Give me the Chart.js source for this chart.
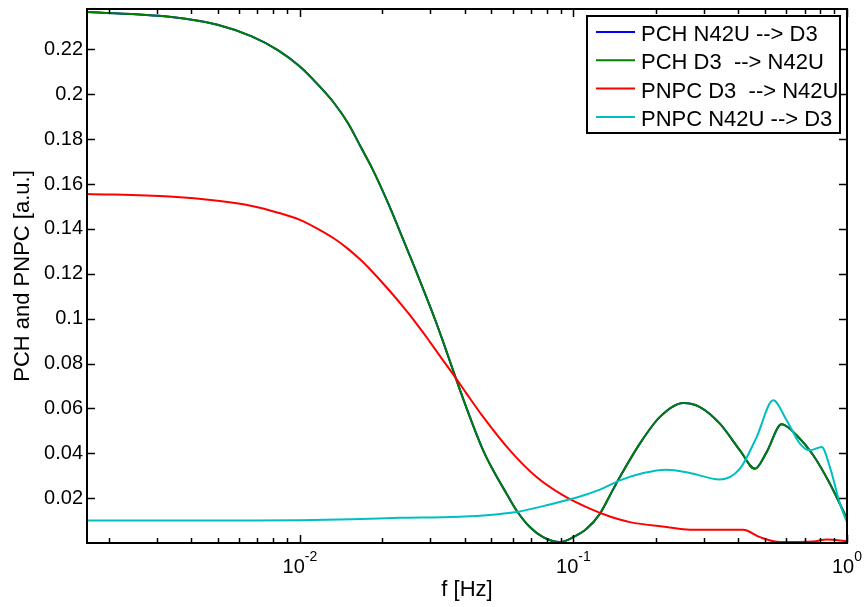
<!DOCTYPE html>
<html>
<head>
<meta charset="utf-8">
<script src="https://cdn.jsdelivr.net/npm/chart.js@4.4.1/dist/chart.umd.min.js"></script>
<style>
  html, body { margin: 0; padding: 0; background: #ffffff; }
  canvas { display: block; }
</style>
</head>
<body>
<canvas id="chart" width="867" height="607"></canvas>
<script>
// ---------------- DATA ----------------
const seriesLabels = ['PCH N42U --> D3', 'PCH D3  --> N42U', 'PNPC D3  --> N42U', 'PNPC N42U --> D3'];

// PCH curves (blue is hidden beneath green: same values)
const pchFreq = [0.0016667, 0.0033333, 0.005, 0.0066667, 0.0083333, 0.01, 0.0116667, 0.0133333, 0.015, 0.0166667,
  0.0183333, 0.02, 0.0216667, 0.0233333, 0.025, 0.0266667, 0.0283333, 0.03, 0.0316667, 0.0333333,
  0.03739, 0.04182, 0.04677, 0.05088, 0.05697, 0.06196, 0.06929, 0.0775, 0.0892, 0.09979,
  0.1117, 0.1249, 0.1359, 0.1478, 0.1749, 0.2071, 0.2519, 0.29, 0.343, 0.4061,
  0.4607, 0.5084, 0.5768, 0.6544, 0.7526, 0.8661, 1.0];
const pchN42UtoD3 = [0.2367, 0.2345, 0.2310, 0.2258, 0.2196, 0.2124, 0.2042, 0.1961, 0.1871, 0.1767,
  0.1672, 0.1574, 0.1477, 0.1381, 0.1292, 0.1208, 0.1127, 0.1050, 0.0975, 0.0900,
  0.0725, 0.0562, 0.0413, 0.0324, 0.0220, 0.0145, 0.0071, 0.0026, 0.0004, 0.0026,
  0.0063, 0.0130, 0.0212, 0.0294, 0.0443, 0.0562, 0.0624, 0.0606, 0.0532, 0.0413,
  0.0331, 0.0405, 0.0529, 0.0480, 0.0391, 0.0264, 0.0108];
const pchD3toN42U = [0.2367, 0.2345, 0.2310, 0.2258, 0.2196, 0.2124, 0.2042, 0.1961, 0.1871, 0.1767,
  0.1672, 0.1574, 0.1477, 0.1381, 0.1292, 0.1208, 0.1127, 0.1050, 0.0975, 0.0900,
  0.0725, 0.0562, 0.0413, 0.0324, 0.0220, 0.0145, 0.0071, 0.0026, 0.0004, 0.0026,
  0.0063, 0.0130, 0.0212, 0.0294, 0.0443, 0.0562, 0.0624, 0.0606, 0.0532, 0.0413,
  0.0331, 0.0405, 0.0529, 0.0480, 0.0391, 0.0264, 0.0108];

// PNPC D3 --> N42U (red)
const pnpcD3Freq = [0.0016667, 0.0033333, 0.005, 0.0066667, 0.0083333, 0.01, 0.0116667, 0.0133333, 0.015, 0.0166667,
  0.0183333, 0.02, 0.0216667, 0.0233333, 0.025, 0.0266667, 0.0283333, 0.03, 0.0316667, 0.0333333,
  0.0366667, 0.04068, 0.04677, 0.05856, 0.07332, 0.09173, 0.1148, 0.1359, 0.1608, 0.2192,
  0.2666, 0.4174, 0.4805, 0.5686, 0.7526, 0.8425, 1.0];
const pnpcD3toN42U = [0.1556, 0.1544, 0.1525, 0.1502, 0.1472, 0.1440, 0.1399, 0.1357, 0.1311, 0.1262,
  0.1211, 0.1161, 0.1113, 0.1067, 0.1022, 0.0978, 0.0935, 0.0893, 0.0853, 0.0815,
  0.0745, 0.0666, 0.0562, 0.0413, 0.0294, 0.0212, 0.0153, 0.0118, 0.0093, 0.0071,
  0.0059, 0.0059, 0.0026, 0.0004, 0.0007, 0.0016, 0.0008];

// PNPC N42U --> D3 (cyan)
const pnpcN42UFreq = [0.0016667, 0.0033333, 0.0066667, 0.01, 0.0166667, 0.02319, 0.03534, 0.04677, 0.06196, 0.08202,
  0.1085, 0.1249, 0.1478, 0.1799, 0.2192, 0.2666, 0.343, 0.4061, 0.4673, 0.5374, 0.6016, 0.6727, 0.7318,
  0.8078, 0.8661, 0.9423, 1.0];
const pnpcN42UtoD3 = [0.0100, 0.0100, 0.0100, 0.0101, 0.0107, 0.0112, 0.0116, 0.0123, 0.0138, 0.0172,
  0.0212, 0.0238, 0.0279, 0.0312, 0.0327, 0.0312, 0.0283, 0.0331, 0.0472, 0.0636, 0.0547, 0.0443, 0.0413,
  0.0428, 0.0338, 0.0175, 0.0093];

// Axis ticks
const xMajorTicks = [0.01, 0.1, 1];
const xTickExponents = ['-2', '-1', '0'];
const yTickValues = [0.02, 0.04, 0.06, 0.08, 0.1, 0.12, 0.14, 0.16, 0.18, 0.2, 0.22];
const yTickLabels = ['0.02', '0.04', '0.06', '0.08', '0.1', '0.12', '0.14', '0.16', '0.18', '0.2', '0.22'];

const seriesColors = ['#0000ff', '#007f00', '#ff0000', '#00bfbf'];

// ---------------- CHART ----------------
const FONT = '"Liberation Sans", Arial, Helvetica, sans-serif';
Chart.defaults.font.family = FONT;
Chart.defaults.color = '#000000';

function toPoints(xs, ys) { return xs.map((x, i) => ({ x: x, y: ys[i] })); }

const boxPlugin = {
  id: 'matlabBox',
  afterDatasetsDraw(chart) {
    const ctx = chart.ctx;
    const a = chart.chartArea;
    const xs = chart.scales.x, ys = chart.scales.y;
    ctx.save();
    ctx.strokeStyle = '#000000';
    ctx.lineWidth = 2;
    ctx.strokeRect(a.left, a.top, a.right - a.left, a.bottom - a.top);
    ctx.lineWidth = 1.5;
    ctx.beginPath();
    yTickValues.forEach(v => {
      const y = Math.round(ys.getPixelForValue(v)) + 0.5;
      ctx.moveTo(a.left, y); ctx.lineTo(a.left + 8, y);
      ctx.moveTo(a.right, y); ctx.lineTo(a.right - 8, y);
    });
    const minV = xs.min, maxV = xs.max;
    for (let e = -4; e <= 0; e++) {
      for (let k = 1; k <= 9; k++) {
        const v = k * Math.pow(10, e);
        if (v < minV * 1.0001 || v > maxV * 1.0001) continue;
        const x = Math.round(xs.getPixelForValue(v)) + 0.5;
        const len = k === 1 ? 8 : 5;
        ctx.moveTo(x, a.bottom); ctx.lineTo(x, a.bottom - len);
        ctx.moveTo(x, a.top); ctx.lineTo(x, a.top + len);
      }
    }
    ctx.stroke();
    // x tick labels: 10 with superscript exponent
    ctx.fillStyle = '#000000';
    ctx.textBaseline = 'alphabetic';
    ctx.textAlign = 'left';
    xMajorTicks.forEach((v, i) => {
      const x = xs.getPixelForValue(v);
      ctx.font = '20px ' + FONT;
      const w1 = ctx.measureText('10').width;
      ctx.font = '14px ' + FONT;
      const w2 = ctx.measureText(xTickExponents[i]).width;
      const start = x - (w1 + w2) / 2;
      ctx.font = '20px ' + FONT;
      ctx.fillText('10', start, a.bottom + 30);
      ctx.font = '14px ' + FONT;
      ctx.fillText(xTickExponents[i], start + w1, a.bottom + 18);
    });
    ctx.restore();
  },
  afterDraw(chart) {
    const ctx = chart.ctx;
    const bx = 587, by = 16, bw = 253, bh = 117;
    ctx.save();
    ctx.fillStyle = '#ffffff';
    ctx.fillRect(bx, by, bw, bh);
    ctx.strokeStyle = '#000000';
    ctx.lineWidth = 2;
    ctx.strokeRect(bx, by, bw, bh);
    ctx.font = '22px ' + FONT;
    ctx.textBaseline = 'alphabetic';
    ctx.textAlign = 'left';
    chart.data.datasets.forEach((ds, i) => {
      const y = 32 + i * 28.3;
      ctx.strokeStyle = ds.borderColor;
      ctx.lineWidth = 2;
      ctx.beginPath();
      ctx.moveTo(596, y); ctx.lineTo(635, y);
      ctx.stroke();
      ctx.fillStyle = '#000000';
      ctx.fillText(ds.label, 641, y + 9);
    });
    ctx.restore();
  }
};

const datasets = [
  { label: seriesLabels[0], data: toPoints(pchFreq, pchN42UtoD3), borderColor: seriesColors[0], order: 4 },
  { label: seriesLabels[1], data: toPoints(pchFreq, pchD3toN42U), borderColor: seriesColors[1], order: 3 },
  { label: seriesLabels[2], data: toPoints(pnpcD3Freq, pnpcD3toN42U), borderColor: seriesColors[2], order: 2 },
  { label: seriesLabels[3], data: toPoints(pnpcN42UFreq, pnpcN42UtoD3), borderColor: seriesColors[3], order: 1 }
];

new Chart(document.getElementById('chart').getContext('2d'), {
  type: 'line',
  data: { datasets: datasets },
  options: {
    responsive: false,
    animation: false,
    layout: { padding: { top: 9, right: 20, bottom: 0, left: 0 } },
    elements: {
      point: { radius: 0 },
      line: { borderWidth: 2, cubicInterpolationMode: 'monotone', fill: false }
    },
    plugins: { legend: { display: false }, tooltip: { enabled: false } },
    scales: {
      x: {
        type: 'logarithmic',
        min: 0.0016667,
        max: 1,
        afterBuildTicks: s => { s.ticks = xMajorTicks.map(v => ({ value: v })); },
        ticks: { display: false },
        grid: { display: false, drawTicks: false },
        border: { display: false },
        title: { display: true, text: 'f [Hz]', color: '#000000',
                 font: { size: 22, lineHeight: 1 }, padding: { top: 0, bottom: 6 } },
        afterFit: s => { s.height = 64; s.paddingLeft = 0; s.paddingRight = 0; }
      },
      y: {
        type: 'linear',
        min: 0,
        max: 0.238,
        afterBuildTicks: s => { s.ticks = yTickValues.map(v => ({ value: v })); },
        ticks: { callback: (v, i) => yTickLabels[i], font: { size: 20 }, color: '#000000',
                 padding: 4, autoSkip: false },
        grid: { display: false, drawTicks: false, tickLength: 0 },
        border: { display: false },
        title: { display: true, text: 'PCH and PNPC [a.u.]', color: '#000000',
                 font: { size: 22, lineHeight: 1 }, padding: { top: 12, bottom: 0 } },
        afterFit: s => { s.width = 87; s.paddingTop = 0; s.paddingBottom = 0; }
      }
    }
  },
  plugins: [boxPlugin]
});
</script>
</body>
</html>
